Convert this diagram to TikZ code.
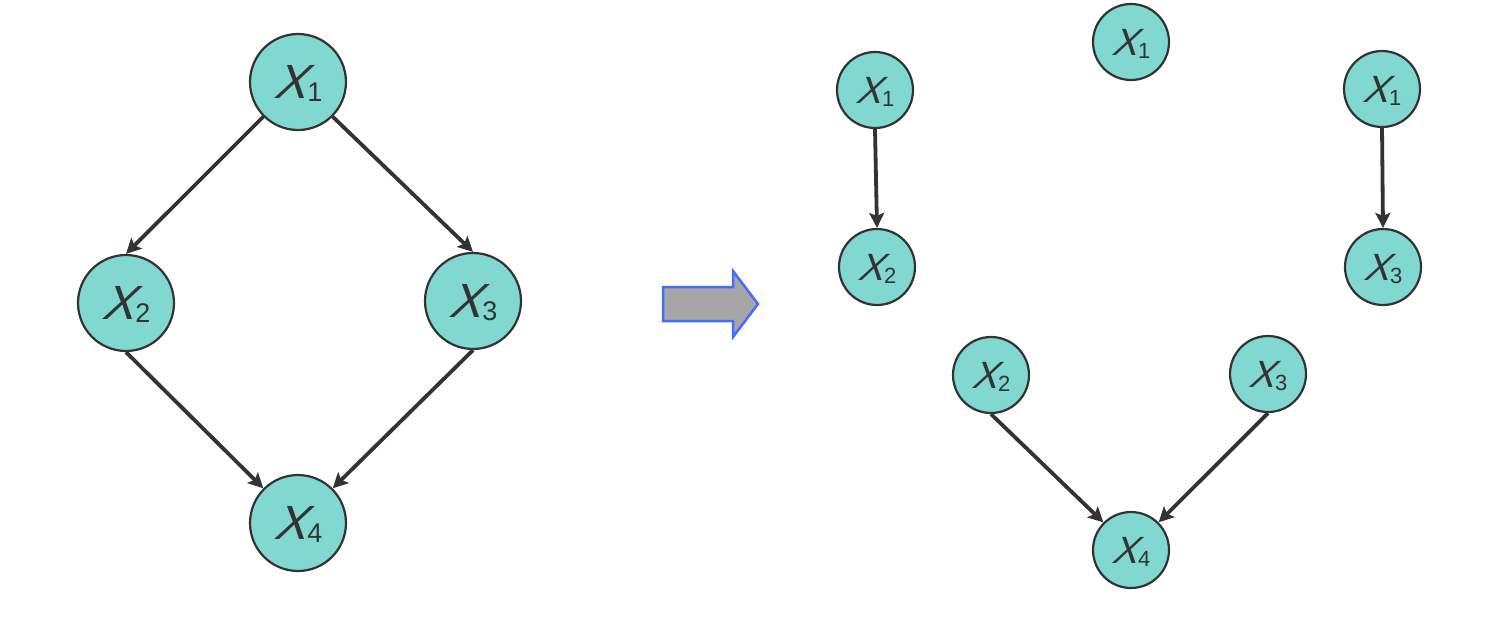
\documentclass[tikz,border=0pt]{standalone}
\usepackage{fontspec}
\setmainfont{Liberation Sans}
\newfontfamily\xfont[FakeSlant=0.36]{Liberation Sans}
\usetikzlibrary{arrows.meta}
\definecolor{nodefill}{RGB}{128,216,208}
\definecolor{edgecol}{RGB}{51,51,51}
\definecolor{arrfill}{RGB}{166,166,166}
\definecolor{arrline}{RGB}{66,110,250}
\newcommand{\bigX}[1]{{\fontsize{48}{48}\selectfont\xfont X}\kern1.5pt\smash{\raisebox{-0.32em}{\fontsize{27}{27}\selectfont #1}}}
\newcommand{\smallX}[1]{{\fontsize{38}{38}\selectfont\xfont X}\kern1.2pt\smash{\raisebox{-0.32em}{\fontsize{22}{22}\selectfont #1}}}
\tikzset{
  bignode/.style={circle, draw=edgecol, line width=2.2pt, fill=nodefill, minimum size=96pt, inner sep=0pt, text=edgecol},
  smallnode/.style={circle, draw=edgecol, line width=2.2pt, fill=nodefill, minimum size=76pt, inner sep=0pt, text=edgecol},
  edge/.style={draw=edgecol, line width=3.8pt, -{Stealth[length=15pt,width=15pt,inset=3pt]}},
}
\begin{document}
\begin{tikzpicture}[x=1pt,y=-1pt]
\useasboundingbox (0,0) rectangle (1490,616);
% left graph
\node[bignode] (l1) at (298,82) {\bigX{1}};
\node[bignode] (l2) at (126,303) {\bigX{2}};
\node[bignode] (l3) at (473,301) {\bigX{3}};
\node[bignode] (l4) at (298,523) {\bigX{4}};
\draw[edge] (l1.south west) -- (l2.north);
\draw[edge] (l1.south east) -- (l3.north);
\draw[edge] (l2.south) -- (l4.north west);
\draw[edge] (l3.south) -- (l4.north east);
% big arrow
\path[fill=arrfill, draw=arrline, line width=2.5pt, line join=miter]
  (663,287) -- (733,287) -- (733,271) -- (758,304) -- (733,337) -- (733,321) -- (663,321) -- cycle;
% right graphs
\node[smallnode] (t1) at (1131,42) {\smallX{1}};
\node[smallnode] (a1) at (875,90) {\smallX{1}};
\node[smallnode] (a2) at (877,267) {\smallX{2}};
\node[smallnode] (b1) at (1382,89) {\smallX{1}};
\node[smallnode] (b3) at (1383,267) {\smallX{3}};
\node[smallnode] (c2) at (991,375) {\smallX{2}};
\node[smallnode] (c3) at (1268,374) {\smallX{3}};
\node[smallnode] (c4) at (1131,550) {\smallX{4}};
\draw[edge] (a1.south) -- (a2.north);
\draw[edge] (b1.south) -- (b3.north);
\draw[edge] (c2.south) -- (c4.north west);
\draw[edge] (c3.south) -- (c4.north east);
\end{tikzpicture}
\end{document}
